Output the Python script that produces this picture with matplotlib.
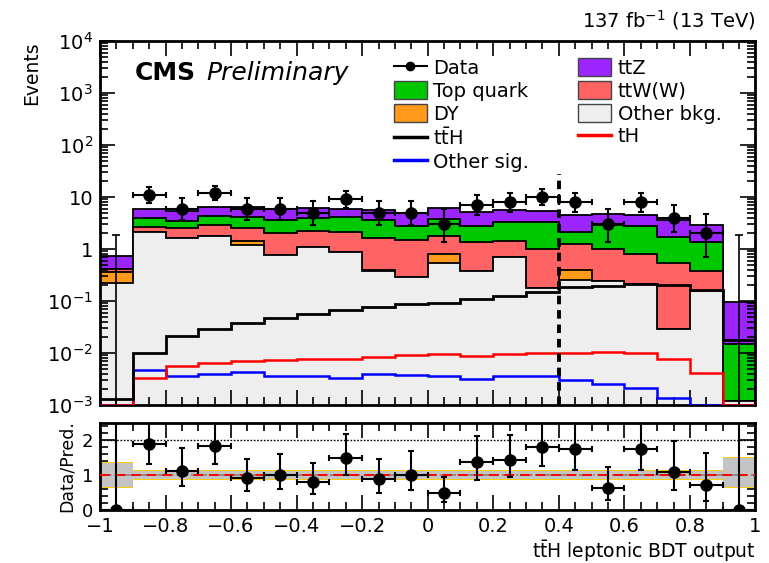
import numpy as np
import matplotlib
matplotlib.use("Agg")
import matplotlib.pyplot as plt
from matplotlib.patches import Patch
from matplotlib.lines import Line2D
from matplotlib.ticker import MultipleLocator, FixedLocator, FixedFormatter, LogLocator, NullFormatter

plt.rcParams['font.family'] = ['DejaVu Sans']
plt.rcParams['mathtext.fontset'] = 'dejavusans'

# BDT output bins: 20 bins from -1 to 1
edges = np.linspace(-1, 1, 21)

data = np.array([0, 11, 6, 12, 6, 6, 5, 9, 5, 5, 3, 7, 8, 10, 8, 3, 8, 4, 2, 0])

other_bkg = np.array([0.22, 2.09, 1.60, 1.80, 1.21, 0.77, 1.07, 0.86, 0.37, 0.29,
                      0.55, 0.38, 0.69, 0.18, 0.25, 0.245, 0.21, 0.029, 0.157, 0.0012])
dy = np.array([0.135, 0, 0, 0, 0.24, 0, 0, 0, 0.02, 0,
               0.25, 0, 0, 0, 0.14, 0, 0, 0, 0, 0])
ttw = np.array([0.055, 0.60, 0.94, 1.14, 1.04, 1.26, 1.11, 1.23, 1.24, 1.20,
                1.00, 0.96, 0.76, 0.82, 0.86, 0.755, 0.59, 0.52, 0.22, 0])
top_quark = np.array([0.0, 1.21, 0.86, 1.31, 1.57, 1.64, 1.77, 1.97, 1.99, 1.32,
                      1.99, 1.47, 1.81, 2.26, 0.90, 1.90, 2.01, 1.13, 0.96, 0.0136])
ttz = np.array([0.33, 1.95, 1.96, 2.27, 2.44, 2.33, 2.25, 1.94, 2.08, 2.19,
                2.41, 2.29, 2.34, 2.24, 2.45, 1.90, 1.79, 1.96, 1.51, 0.082])

tth = np.array([0.0013, 0.0102, 0.0213, 0.0287, 0.0385, 0.048, 0.0559, 0.0667, 0.0773, 0.0895,
                0.0935, 0.109, 0.126, 0.146, 0.182, 0.196, 0.212, 0.205, 0.16, 0.018])
th = np.array([0.00102, 0.00336, 0.00564, 0.00653, 0.00704, 0.00736, 0.0078, 0.0078, 0.0084, 0.0092,
               0.0095, 0.0088, 0.0095, 0.0102, 0.0102, 0.0105, 0.0098, 0.0078, 0.0042, 0.00102])
other_sig = np.array([0.00102, 0.00466, 0.00362, 0.004, 0.00432, 0.00362, 0.00362, 0.00336, 0.0039, 0.00373,
                      0.0036, 0.00313, 0.0036, 0.0036, 0.003, 0.0025, 0.00215, 0.00135, 0.00102, 0.0009])

# uncertainty bands in the ratio panel
unc_lo = np.array([0.66] + [0.895] * 18 + [0.65])
unc_hi = np.array([1.34] + [1.105] * 18 + [1.48])
stat_lo = np.array([0.63] + [0.865] * 18 + [0.62])
stat_hi = np.array([1.37] + [1.135] * 18 + [1.51])

# 68% Poisson intervals (down, up) for the observed counts
poisson_err = {0: (0.0, 1.84), 2: (1.29, 2.64), 3: (1.63, 2.92), 4: (1.91, 3.16),
               5: (2.16, 3.38), 6: (2.38, 3.58), 7: (2.58, 3.77), 8: (2.77, 3.95),
               9: (2.94, 4.11), 10: (3.11, 4.27), 11: (3.27, 4.42), 12: (3.42, 4.56)}

stack = [("Other bkg.", other_bkg, "#eeeeee"),
         ("DY", dy, "#ff9a1a"),
         ("ttW(W)", ttw, "#ff6363"),
         ("Top quark", top_quark, "#00c800"),
         ("ttZ", ttz, "#9b24ff")]

centers = 0.5 * (edges[:-1] + edges[1:])
width = edges[1] - edges[0]
half = 0.5 * width
err_dn = np.array([poisson_err[n][0] for n in data])
err_up = np.array([poisson_err[n][1] for n in data])


def root_style(ax, fs):
    ax.tick_params(which='both', direction='in', top=True, right=True, labelsize=fs, width=1.2)
    ax.tick_params(which='major', length=11)
    ax.tick_params(which='minor', length=5.5)
    for s in ax.spines.values():
        s.set_linewidth(2)


fig = plt.figure(figsize=(7.69, 5.63), dpi=100)
ax = fig.add_axes([0.130, 0.2806, 0.8524, 0.6466])
rax = fig.add_axes([0.130, 0.0941, 0.8524, 0.1551])

# stacked backgrounds, drawn top-down so lower components sit in front
cum = np.cumsum([s[1] for s in stack], axis=0)
for i in range(len(stack) - 1, -1, -1):
    ax.stairs(cum[i], edges, baseline=1e-5, fill=True, facecolor=stack[i][2], zorder=1)
    ax.stairs(cum[i], edges, baseline=1e-5, fill=False, color='black', lw=1.3, zorder=1)

# signal overlays
ax.stairs(other_sig, edges, baseline=None, color='#0000ff', lw=1.8, zorder=3)
ax.stairs(th, edges, baseline=None, color='#ff0000', lw=1.8, zorder=3)
ax.stairs(tth, edges, baseline=None, color='black', lw=2.0, zorder=3)

ax.plot([0.4, 0.4], [1e-3, 28], color='black', lw=2.8, ls=(0, (2.2, 1.5)), zorder=5)

# data
nz = data > 0
ax.errorbar(centers[nz], data[nz], xerr=half, yerr=[err_dn[nz], err_up[nz]], fmt='o',
            color='black', ms=8, lw=1.5, capsize=2.5, capthick=1.5, zorder=6)
ax.vlines(centers[~nz], 1e-4, err_up[~nz], color='black', lw=1.2, zorder=6)
ax.plot(centers[~nz], err_up[~nz], ls='none', marker='_', ms=6, mew=1.2, color='black', zorder=6)

ax.set_xlim(-1, 1)
ax.set_yscale('log')
ax.set_ylim(1e-3, 1e4)
ylog = [1e-3, 1e-2, 1e-1, 1, 10, 1e2, 1e3, 1e4]
ax.yaxis.set_major_locator(FixedLocator(ylog))
ax.yaxis.set_major_formatter(FixedFormatter([r'$10^{-3}$', r'$10^{-2}$', r'$10^{-1}$', '1', '10',
                                             r'$10^{2}$', r'$10^{3}$', r'$10^{4}$']))
ax.yaxis.set_minor_locator(LogLocator(base=10, subs=np.arange(2, 10)))
ax.yaxis.set_minor_formatter(NullFormatter())
ax.xaxis.set_major_locator(MultipleLocator(0.2))
ax.xaxis.set_minor_locator(MultipleLocator(0.05))
ax.set_xticklabels([])
root_style(ax, 14)
ax.tick_params(axis='y', pad=5)
ax.set_ylabel('Events', loc='top', fontsize=13.5)

ax.text(0.053, 0.893, 'CMS', transform=ax.transAxes, fontsize=18, weight='bold', va='baseline')
ax.text(0.163, 0.893, 'Preliminary', transform=ax.transAxes, fontsize=18, style='italic', va='baseline')
fig.text(0.983, 0.952, r'137 fb$^{-1}$ (13 TeV)', fontsize=14, ha='right', va='baseline')

tth_label = r'$\mathrm{t\bar{t}H}$'
patch = lambda c: Patch(facecolor=c, edgecolor='#444444', lw=1)
leg_kw = dict(loc='upper left', frameon=False, fontsize=14, handlelength=1.7, handleheight=1.0,
              handletextpad=0.35, labelspacing=0.18, borderpad=0, borderaxespad=0)
col1 = [(Line2D([], [], color='black', marker='o', ms=6, lw=1.5), 'Data'),
        (patch("#00c800"), 'Top quark'),
        (patch("#ff9a1a"), 'DY'),
        (Line2D([], [], color='black', lw=2.5), tth_label),
        (Line2D([], [], color='#0000ff', lw=2.5), 'Other sig.')]
col2 = [(patch("#9b24ff"), 'ttZ'),
        (patch("#ff6363"), 'ttW(W)'),
        (patch("#eeeeee"), 'Other bkg.'),
        (Line2D([], [], color='#ff0000', lw=2.5), 'tH')]
leg1 = ax.legend([h for h, l in col1], [l for h, l in col1],
                 bbox_to_anchor=(0.448, 0.952), **leg_kw)
ax.add_artist(leg1)
ax.legend([h for h, l in col2], [l for h, l in col2],
          bbox_to_anchor=(0.729, 0.952), **leg_kw)

# ratio panel
rax.bar(centers, stat_hi - stat_lo, bottom=stat_lo, width=width, color='#ffcc00', lw=0, zorder=1)
rax.bar(centers, unc_hi - unc_lo, bottom=unc_lo, width=width, color='#c4c4c4', lw=0, zorder=2)
rax.axhline(1, color='#888888', lw=1.3, ls='-.', zorder=3)
rax.axhline(1, color='#ff0000', lw=1.4, ls=(0, (5, 3)), zorder=3)
rax.axhline(2, color='black', lw=1, ls=(0, (1.2, 1.2)), zorder=3)

total = cum[-1]
ratio = data / total
rax.errorbar(centers, ratio, xerr=half, yerr=[err_dn / total, err_up / total], fmt='o',
             color='black', ms=8, lw=1.5, capsize=2.5, capthick=1.5, zorder=6)

rax.set_xlim(-1, 1)
rax.set_ylim(0, 2.5)
rax.yaxis.set_major_locator(FixedLocator([0, 1, 2]))
rax.yaxis.set_minor_locator(MultipleLocator(0.2))
rax.xaxis.set_minor_locator(MultipleLocator(0.05))
rax.set_xticks([-1, -0.8, -0.6, -0.4, -0.2, 0, 0.2, 0.4, 0.6, 0.8, 1])
rax.set_xticklabels(['\u22121', '\u22120.8', '\u22120.6', '\u22120.4', '\u22120.2', '0',
                     '0.2', '0.4', '0.6', '0.8', '1'])
root_style(rax, 14)
rax.tick_params(axis='x', pad=5)
rax.tick_params(axis='y', pad=5, labelsize=13)
rax.set_ylabel('Data/Pred.', fontsize=12.5)
rax.set_xlabel(tth_label + ' leptonic BDT output', loc='right', fontsize=13.5)
rax.xaxis.label.set_va('baseline')
rax.xaxis.set_label_coords(1.0, -0.555)

fig.align_ylabels([ax, rax])
plt.savefig('out.png', dpi=100)
